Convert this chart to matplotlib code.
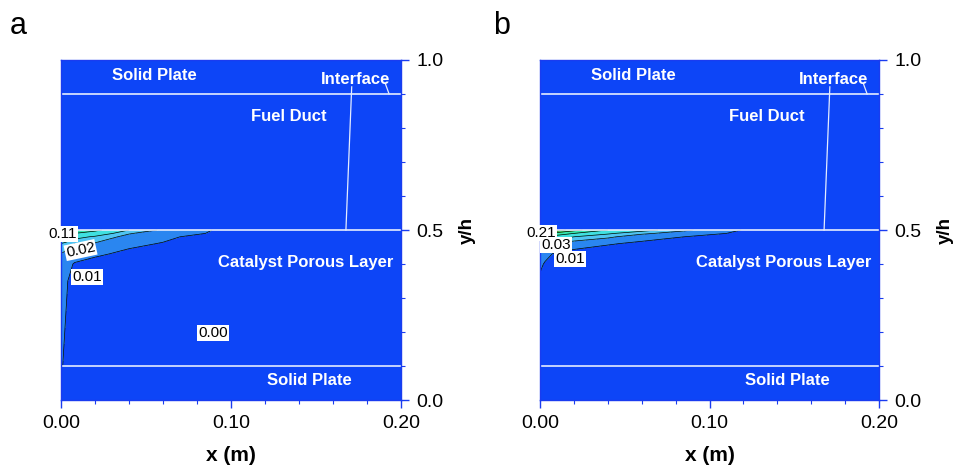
import numpy as np
import matplotlib.pyplot as plt
from matplotlib.colors import ListedColormap, BoundaryNorm
from matplotlib.ticker import MultipleLocator

plt.rcParams['font.family'] = ['Liberation Sans', 'DejaVu Sans']

# grid nodes inside the catalyst porous layer (x in m, y/h)
x_nodes = [0.0, 0.003, 0.008, 0.02, 0.04, 0.06, 0.085, 0.12, 0.2]
y_nodes = [0.1, 0.35, 0.40, 0.43, 0.46, 0.48, 0.49, 0.5]

# case a: rows follow y_nodes, columns follow x_nodes
conc_a = [
    [0.011, 0.008, 0.004, 0.002, 0.001, 0.0005, 0.0, 0.0, 0.0],
    [0.013, 0.011, 0.006, 0.003, 0.002, 0.001, 0.0005, 0.0, 0.0],
    [0.015, 0.012, 0.0095, 0.007, 0.004, 0.002, 0.001, 0.0005, 0.0],
    [0.020, 0.017, 0.013, 0.0115, 0.008, 0.004, 0.002, 0.001, 0.0],
    [0.030, 0.026, 0.020, 0.019, 0.012, 0.0095, 0.004, 0.002, 0.001],
    [0.060, 0.045, 0.035, 0.028, 0.016, 0.012, 0.007, 0.003, 0.001],
    [0.100, 0.070, 0.050, 0.040, 0.021, 0.013, 0.010, 0.005, 0.002],
    [0.160, 0.120, 0.080, 0.055, 0.030, 0.018, 0.0105, 0.006, 0.003],
]

# case b
conc_b = [
    [0.002, 0.001, 0.001, 0.0005, 0.0, 0.0, 0.0, 0.0, 0.0],
    [0.008, 0.005, 0.003, 0.002, 0.001, 0.0005, 0.0, 0.0, 0.0],
    [0.012, 0.009, 0.006, 0.004, 0.002, 0.001, 0.0005, 0.0, 0.0],
    [0.016, 0.013, 0.0095, 0.007, 0.004, 0.003, 0.002, 0.001, 0.0],
    [0.025, 0.022, 0.019, 0.014, 0.011, 0.008, 0.005, 0.003, 0.001],
    [0.060, 0.050, 0.040, 0.030, 0.022, 0.014, 0.010, 0.005, 0.002],
    [0.120, 0.100, 0.070, 0.050, 0.032, 0.022, 0.015, 0.008, 0.003],
    [0.260, 0.210, 0.140, 0.090, 0.050, 0.035, 0.022, 0.0095, 0.004],
]

levels = [0.0, 0.01, 0.02, 0.03, 0.05, 0.08, 0.11, 0.15, 0.21, 0.30]
level_colors = ['#0d45f7', '#2a86f0', '#4fc4f2', '#3fe0e0', '#35e8b0',
                '#50ea78', '#80f050', '#b0f040', '#e0f030']

# labelled contour values and where their tags sit
labels_a = [0.11, 0.02, 0.01, 0.00]
label_pos_a = [(0.0012, 0.488, 0), (0.0115, 0.441, 12), (0.0153, 0.362, 0), (0.0894, 0.197, 0)]
labels_b = [0.21, 0.03, 0.01]
label_pos_b = [(0.0006, 0.490, 0), (0.0094, 0.455, 0), (0.0177, 0.415, 0)]

BLUE = '#0d45f7'
AX_BLUE = '#1a3cf0'

cmap = ListedColormap(level_colors)
norm = BoundaryNorm(levels, cmap.N)


def draw_panel(ax, conc, labels, label_pos):
    ax.set_facecolor(BLUE)
    X, Y = np.meshgrid(x_nodes, y_nodes)
    Z = np.array(conc)
    ax.contourf(X, Y, Z, levels=levels, cmap=cmap, norm=norm)
    ax.contour(X, Y, Z, levels=levels[1:], colors='k', linewidths=0.5)

    # layer boundaries
    for yb in (0.1, 0.5, 0.9):
        ax.axhline(yb, color='#e4ecff', lw=1.2)

    for val, (lx, ly, rot) in zip(labels, label_pos):
        ax.text(lx, ly, f"{val:.2f}", fontsize=11, ha='center', va='center',
                rotation=rot, clip_on=False,
                bbox=dict(boxstyle='square,pad=0.06', fc='white', ec='none'))

    tk = dict(color='white', fontsize=12, fontweight='bold', ha='center', va='center')
    ax.text(0.055, 0.955, "Solid Plate", **tk)
    ax.text(0.173, 0.944, "Interface", **tk)
    ax.text(0.134, 0.833, "Fuel Duct", **tk)
    ax.text(0.144, 0.405, "Catalyst Porous Layer", **tk)
    ax.text(0.146, 0.058, "Solid Plate", **tk)
    # leader lines from the Interface tag
    ax.plot([0.171, 0.1676], [0.921, 0.5], color='#e4ecff', lw=0.9)
    ax.plot([0.1906, 0.193], [0.933, 0.9], color='#e4ecff', lw=0.9)

    ax.set_xlim(0, 0.2)
    ax.set_ylim(0, 1.0)
    ax.set_xticks([0.0, 0.1, 0.2])
    ax.set_xticklabels(["0.00", "0.10", "0.20"])
    ax.xaxis.set_minor_locator(MultipleLocator(0.02))
    ax.yaxis.tick_right()
    ax.yaxis.set_label_position('right')
    ax.set_yticks([0.0, 0.5, 1.0])
    ax.set_yticklabels(["0.0", "0.5", "1.0"])
    ax.yaxis.set_minor_locator(MultipleLocator(0.1))
    ax.tick_params(which='major', length=6, width=1.0, color=AX_BLUE, labelsize=14, pad=5)
    ax.tick_params(which='minor', length=3, width=0.8, color=AX_BLUE)
    for sp in ax.spines.values():
        sp.set_color(AX_BLUE)
        sp.set_linewidth(1.0)
    ax.set_xlabel("x (m)", fontsize=15, fontweight='bold', labelpad=10)
    ax.set_ylabel("y/h", fontsize=13.5, fontweight='bold')
    ax.yaxis.set_label_coords(1.17, 0.5)


fig = plt.figure(figsize=(9.57, 4.65), dpi=100)
ax_a = fig.add_axes([61 / 957, 65 / 465, 340 / 957, 340 / 465])
ax_b = fig.add_axes([540 / 957, 65 / 465, 339 / 957, 340 / 465])

draw_panel(ax_a, conc_a, labels_a, label_pos_a)
draw_panel(ax_b, conc_b, labels_b, label_pos_b)

fig.text(18 / 957, 1 - 26 / 465, "a", fontsize=22, ha='center', va='center')
fig.text(502 / 957, 1 - 26 / 465, "b", fontsize=22, ha='center', va='center')

fig.savefig("out.png", dpi=100)
